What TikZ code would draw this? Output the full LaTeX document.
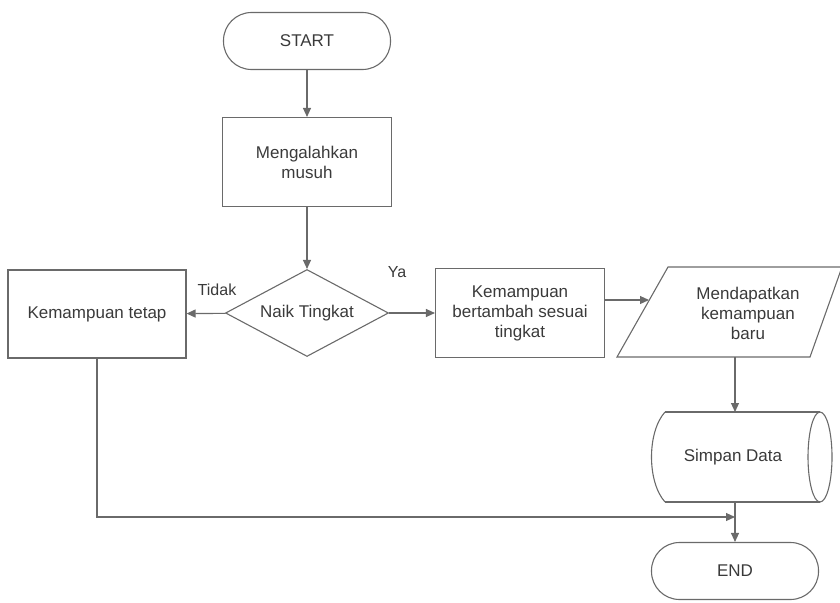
\documentclass[tikz,border=0pt]{standalone}
\usepackage{fontspec}
\setmainfont{Liberation Sans}
\usetikzlibrary{shapes.geometric,arrows.meta}
\definecolor{ln}{HTML}{6A6A6A}
\definecolor{tx}{HTML}{3A3A3A}
\begin{document}
\begin{tikzpicture}[x=1pt,y=-1pt,
  every node/.style={font=\fontsize{17}{20}\selectfont, text=tx},
  shapeline/.style={draw=ln, line width=1.1pt},
  term/.style={shapeline, rectangle, rounded corners=28pt, minimum width=167pt, minimum height=57pt},
  proc/.style={shapeline, rectangle, minimum width=169pt, minimum height=89pt, align=center},
  decision/.style={shapeline, diamond, aspect=1.87, minimum width=163pt, minimum height=87pt, inner sep=0pt},
  arr/.style={draw=ln, line width=1.1pt, -{Triangle[length=9pt,width=8pt]}},
  lbl/.style={font=\fontsize{16}{19}\selectfont}]
\useasboundingbox (0,0) rectangle (840,602);

% nodes
\node[term] (start) at (307,41) {START};
\node[proc] (musuh) at (307,162) {Mengalahkan\\musuh};
\node[decision] (naik) at (307,313) {Naik Tingkat};
\node[proc, minimum width=178pt, minimum height=88pt] (tetap) at (97,314) {Kemampuan tetap};
\node[proc] (tambah) at (520,313) {Kemampuan\\bertambah sesuai\\tingkat};

% parallelogram (input/output)
\coordinate (p1) at (617,357);
\coordinate (p2) at (668,267);
\coordinate (p3) at (842,267);
\coordinate (p4) at (810,357);
\draw[shapeline] (p1) -- (p2) -- (p3) -- (p4) -- cycle;
\node[align=center] (baru) at (748,313) {Mendapatkan\\kemampuan\\baru};
\coordinate (baruin) at (649,300);
\coordinate (barubot) at (735,357);

% stored data (cylinder)
\draw[shapeline] (665,412) -- (820,412) (665,502) -- (820,502);
\draw[shapeline] (820,457) ellipse [x radius=12, y radius=45];
\draw[shapeline] (665,412) .. controls (647,432) and (647,482) .. (665,502);
\node (simpan) at (733,457) {Simpan Data};
\coordinate (sdtop) at (735,412);
\coordinate (sdbot) at (735,502);

\node[term] (end) at (735,571) {END};
\coordinate (join) at (735,517);

% labels
\node[lbl] (tidak) at (217,290) {Tidak};
\node[lbl] (ya) at (397,272) {Ya};

% connectors
\draw[arr] (start) -- (musuh);
\draw[arr] (musuh) -- (naik);
\draw[arr] (naik) -- (tetap);
\draw[arr] (naik) -- (tambah);
\draw[arr] (tambah.east |- baruin) -- (baruin);
\draw[arr] (barubot) -- (sdtop);
\draw[arr] (sdbot) -- (end);
\draw[arr] (tetap.south) |- (join);
\end{tikzpicture}
\end{document}
